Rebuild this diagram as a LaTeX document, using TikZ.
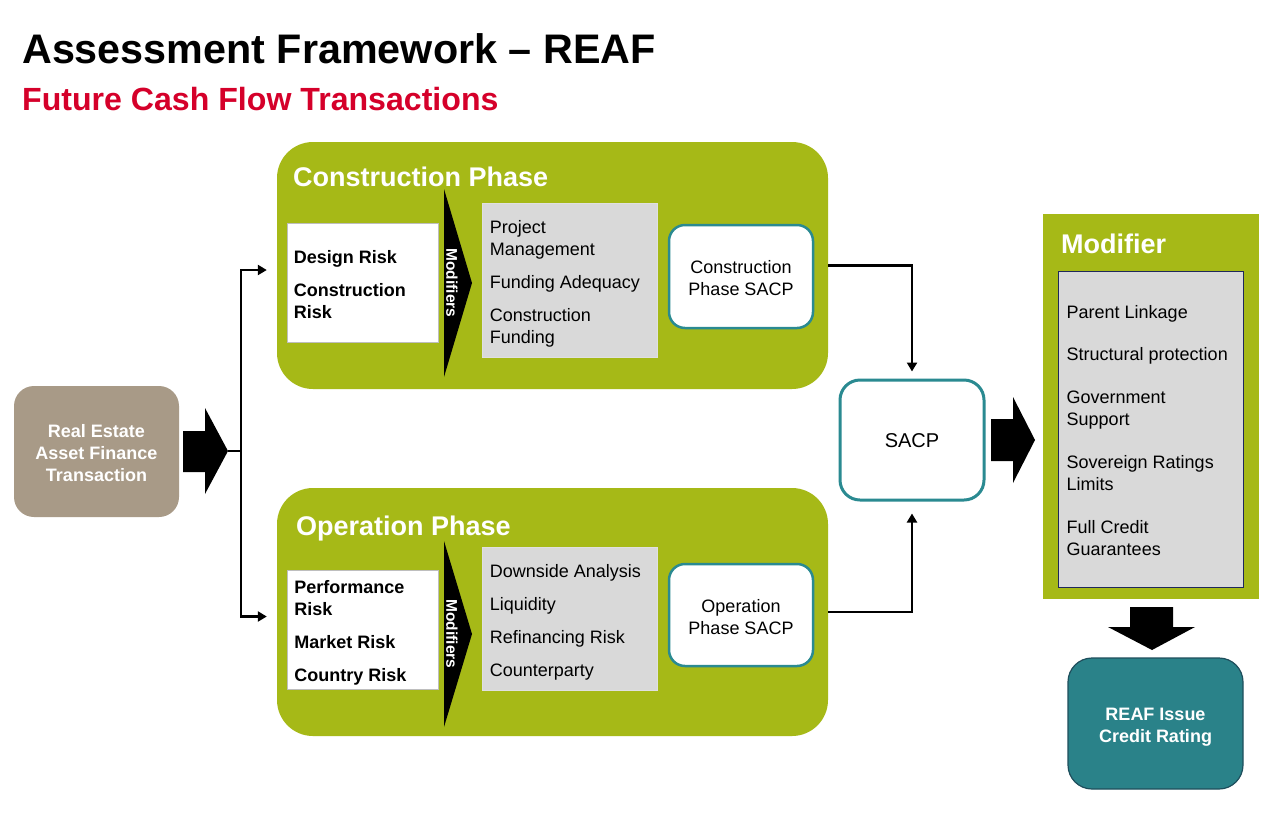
\documentclass[tikz,border=0pt]{standalone}
\usepackage{fontspec}
\setmainfont{Liberation Sans}
\usetikzlibrary{arrows.meta}
\definecolor{reafgreen}{RGB}{166,185,23}
\definecolor{reafteal}{RGB}{42,130,137}
\definecolor{reafborder}{RGB}{30,78,92}
\definecolor{sacpteal}{RGB}{42,138,145}
\definecolor{reafbrown}{RGB}{168,154,135}
\definecolor{reafred}{RGB}{213,0,42}
\definecolor{factorgrey}{RGB}{217,217,217}
\definecolor{boxgrey}{RGB}{190,190,190}
\definecolor{reafnavy}{RGB}{31,40,90}
\tikzset{
  phasebox/.style={fill=reafgreen, rounded corners=36pt, minimum width=551pt, inner sep=0pt},
  riskbox/.style={fill=white, draw=boxgrey, line width=0.8pt, inner sep=0pt, minimum width=151pt, minimum height=119pt},
  factorbox/.style={fill=factorgrey, draw=white!88!black, line width=0.8pt, inner sep=0pt, minimum width=175pt},
  sacpbox/.style={fill=white, draw=sacpteal, line width=2.5pt, rounded corners=16pt, inner sep=0pt, minimum width=144pt},
  listtext/.style={anchor=west, align=left, inner sep=0pt, font=\fontsize{18}{22}\selectfont},
  centertext/.style={align=center, inner sep=0pt, font=\fontsize{18}{22}\selectfont},
  conn/.style={line width=2.6pt, black},
  arr/.style={conn, -{Triangle[length=9pt,width=10pt]}},
  heading/.style={text=white, font=\fontsize{27}{32}\selectfont\bfseries, anchor=base west, inner sep=0pt},
  bigarrow/.style={fill=black},
  modlabel/.style={text=white, font=\fontsize{15.5}{18}\selectfont\bfseries, rotate=-90, inner sep=0pt}
}
\begin{document}
\begin{tikzpicture}[x=1pt,y=-1pt]
\useasboundingbox (0,0) rectangle (1280,823);
\fill[white] (0,0) rectangle (1280,823);

% titles
\node[anchor=base west, inner sep=0pt, font=\fontsize{41.3}{48}\selectfont\bfseries] (title) at (22,63) {Assessment Framework – REAF};
\node[anchor=base west, inner sep=0pt, text=reafred, font=\fontsize{32.1}{38}\selectfont\bfseries] (subtitle) at (22,110) {Future Cash Flow Transactions};

% source
\node[fill=reafbrown, rounded corners=20pt, minimum width=165pt, minimum height=131pt, inner sep=0pt] (reat) at (96.5,451.5) {};
\node[centertext, text=white, font=\fontsize{18}{22}\selectfont\bfseries] (reattext) at ([yshift=-2pt]reat.center) {Real Estate\\Asset Finance\\Transaction};
\fill[bigarrow] (183,431) -- (205,431) -- (205,408) -- (228,451) -- (205,494) -- (205,472) -- (183,472) -- cycle;
\coordinate (a1tip) at (228,451);
\coordinate (split) at (241,451);

% construction phase
\node[phasebox, minimum height=247pt] (cphase) at (552.5,265.5) {};
\node[heading] (ctitle) at (293,186) {Construction Phase};
\node[riskbox] (crisk) at (362.5,282.5) {};
\node[listtext, font=\fontsize{18}{22}\selectfont\bfseries] (crisktext) at ([xshift=7pt,yshift=-2pt]crisk.west) {Design Risk\\[11pt]Construction\\Risk};
\fill[bigarrow] (444,189) -- (472,283) -- (444,377) -- cycle;
\node[modlabel] (cmod) at (452,283) {Modifiers};
\node[factorbox, minimum height=154pt] (cfact) at (569.5,280) {};
\node[listtext] (cfacttext) at ([xshift=8pt,yshift=-4pt]cfact.west) {Project\\Management\\[11pt]Funding Adequacy\\[11pt]Construction\\Funding};
\node[sacpbox, minimum height=103pt] (csacp) at (741,276.5) {};
\node[centertext] (csacptext) at ([yshift=-2pt]csacp.center) {Construction\\Phase SACP};

% operation phase
\node[phasebox, minimum height=248pt] (ophase) at (552.5,612) {};
\node[heading] (otitle) at (296,535) {Operation Phase};
\node[riskbox] (orisk) at (363,629.5) {};
\node[listtext, font=\fontsize{18}{22}\selectfont\bfseries] (orisktext) at ([xshift=7pt,yshift=-3pt]orisk.west) {Performance\\Risk\\[11pt]Market Risk\\[11pt]Country Risk};
\fill[bigarrow] (444,541) -- (472,634) -- (444,727) -- cycle;
\node[modlabel] (omod) at (452,634) {Modifiers};
\node[factorbox, minimum height=143pt] (ofact) at (569.5,618.5) {};
\node[listtext] (ofacttext) at ([xshift=8pt,yshift=-3.5pt]ofact.west) {Downside Analysis\\[11pt]Liquidity\\[11pt]Refinancing Risk\\[11pt]Counterparty};
\node[sacpbox, minimum height=102pt] (osacp) at (741,615) {};
\node[centertext] (osacptext) at ([yshift=-2pt]osacp.center) {Operation\\Phase SACP};

% SACP
\node[sacpbox, line width=3pt, rounded corners=20pt, minimum height=120pt] (sacp) at (912,440) {};
\node[centertext, font=\fontsize{20}{24}\selectfont] (sacptext) at ([yshift=-1pt]sacp.center) {SACP};
\fill[bigarrow] (991,419) -- (1013,419) -- (1013,397) -- (1035,440) -- (1013,483) -- (1013,461) -- (991,461) -- cycle;

% modifier
\node[fill=reafgreen, minimum width=216pt, minimum height=385pt, inner sep=0pt] (modbox) at (1151,406.5) {};
\node[heading] (modtitle) at (1061,253) {Modifier};
\node[fill=factorgrey, draw=reafnavy, line width=1pt, inner sep=0pt, minimum width=185pt, minimum height=316pt] (modlist) at (1150.5,429) {};
\node[listtext] (modlisttext) at ([xshift=9pt,yshift=-2pt]modlist.west)
  {Parent Linkage\\[20pt]Structural protection\\[21pt]Government\\Support\\[21pt]Sovereign Ratings\\Limits\\[21pt]Full Credit\\Guarantees};
\fill[bigarrow] (1130,607) -- (1173,607) -- (1173,627) -- (1195,627) -- (1152,650) -- (1108,627) -- (1130,627) -- cycle;

% result
\node[fill=reafteal, draw=reafborder, line width=1.2pt, rounded corners=24pt, minimum width=175pt, minimum height=131pt, inner sep=0pt] (rating) at (1155.5,723.5) {};
\node[centertext, text=white, font=\fontsize{18}{22}\selectfont\bfseries] (ratingtext) at ([yshift=-3.5pt]rating.center) {REAF Issue\\Credit Rating};

% connectors
\draw[conn] (a1tip) -- (split);
\draw[arr] (split) |- ([xshift=-10pt,yshift=-4.5pt]cphase.west);
\draw[arr] (split) |- ([xshift=-10pt,yshift=-4.5pt]ophase.west);
\draw[arr] (cphase.east) -| ([yshift=7pt]sacp.north);
\draw[arr] (ophase.east) -| ([yshift=-12pt]sacp.south);
\end{tikzpicture}
\end{document}
